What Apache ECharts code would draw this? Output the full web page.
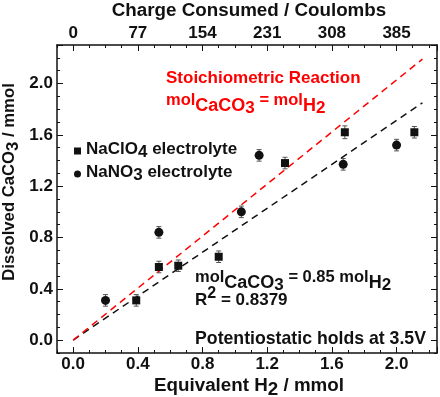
<!DOCTYPE html>
<html>
<head>
<meta charset="UTF-8">
<title>Dissolved CaCO3</title>
<script src="https://cdn.jsdelivr.net/npm/echarts@6/dist/echarts.min.js"></script>
<style>
  html, body { margin: 0; padding: 0; background: #fff; }
  #main { width: 440px; height: 397px; }
</style>
</head>
<body>
<div id="main"></div>
<script>
// NaClO4 electrolyte (squares)
const clo4X = [0.39, 0.53, 0.65, 0.90, 1.31, 1.68, 2.11]
const clo4Y = [0.31, 0.57, 0.58, 0.65, 1.38, 1.62, 1.62]
const clo4Err = [0.045, 0.045, 0.045, 0.045, 0.045, 0.05, 0.045]
// NaNO3 electrolyte (circles)
const no3X = [0.20, 0.53, 1.04, 1.15, 1.67, 2.00]
const no3Y = [0.31, 0.84, 1.00, 1.44, 1.37, 1.52]
const no3Err = [0.045, 0.045, 0.045, 0.045, 0.045, 0.045]
// dashed lines: stoichiometric (mol CaCO3 = mol H2) and fit (0.85)
const lineX = [0, 2.16]
const stoichY = [0, 2.19]
const fitY = [0, 1.85]

const xTicks = [0, 0.4, 0.8, 1.2, 1.6, 2.0]
const topTicks = [0, 77, 154, 231, 308, 385]
const yTicks = [0, 0.4, 0.8, 1.2, 1.6, 2.0]

const FONT = 'Liberation Sans'
const BLACK = '#111'
const RED = '#f00'

function tickIndex(arr, v) {
	return arr.findIndex(t => Math.abs(t - v) < 1e-6)
}

// frame axes carry the small ticks every 0.1
function minorX(pos) {
	return {
		type: 'value', gridIndex: 0, position: pos, min: -0.1, max: 2.25, interval: 0.1,
		axisLine: { onZero: false, lineStyle: { color: BLACK, width: 1.5 } },
		axisTick: { inside: true, length: 3, lineStyle: { color: BLACK, width: 1 } },
		axisLabel: { show: false }, splitLine: { show: false }
	}
}
function minorY(pos) {
	return {
		type: 'value', gridIndex: 0, position: pos, min: -0.1, max: 2.3, interval: 0.1,
		axisLine: { onZero: false, lineStyle: { color: BLACK, width: 1.5 } },
		axisTick: { inside: true, length: 3, lineStyle: { color: BLACK, width: 1 } },
		axisLabel: { show: false }, splitLine: { show: false }
	}
}
const labelStyle = { fontFamily: FONT, fontWeight: 'bold', fontSize: 17, color: BLACK }

// second grid starts at 0 so the long ticks fall on 0, 0.4, 0.8 ...
function majorX(pos, offset, margin, fmt) {
	return {
		type: 'value', gridIndex: 1, position: pos, offset: offset, min: 0, max: 2.25, interval: 0.4,
		axisLine: { show: false, onZero: false },
		axisTick: { inside: true, length: 6, lineStyle: { color: BLACK, width: 1 } },
		axisLabel: Object.assign({ margin: margin, formatter: fmt }, labelStyle),
		splitLine: { show: false }
	}
}
function majorY(pos, offset, showLabel) {
	return {
		type: 'value', gridIndex: 1, position: pos, offset: offset, min: 0, max: 2.3, interval: 0.4,
		axisLine: { show: false, onZero: false },
		axisTick: { inside: true, length: 6, lineStyle: { color: BLACK, width: 1 } },
		axisLabel: Object.assign({ show: showLabel, margin: 4,
			formatter: v => tickIndex(yTicks, v) < 0 ? '' : v.toFixed(1) }, labelStyle),
		splitLine: { show: false }
	}
}

function errorBars(xs, ys, errs) {
	return {
		type: 'custom', xAxisIndex: 0, yAxisIndex: 0, z: 1, silent: true,
		data: xs.map((x, i) => [x, ys[i] - errs[i], ys[i] + errs[i]]),
		renderItem: function(params, api) {
			const lo = api.coord([api.value(0), api.value(1)])
			const hi = api.coord([api.value(0), api.value(2)])
			const w = 2.5
			const st = { stroke: '#555', lineWidth: 1 }
			return { type: 'group', children: [
				{ type: 'line', shape: { x1: lo[0], y1: lo[1], x2: hi[0], y2: hi[1] }, style: st },
				{ type: 'line', shape: { x1: lo[0] - w, y1: lo[1], x2: lo[0] + w, y2: lo[1] }, style: st },
				{ type: 'line', shape: { x1: hi[0] - w, y1: hi[1], x2: hi[0] + w, y2: hi[1] }, style: st }
			] }
		}
	}
}

function pairs(xs, ys) {
	return xs.map((x, i) => [x, ys[i]])
}

// rich text pieces for subscripts
function tok(color, size, pad) {
	return { fontFamily: FONT, fontWeight: 'bold', fontSize: size, fill: color, verticalAlign: 'top',
		padding: [pad, 0, 0, 0] }
}
function richSet(color) {
	return {
		m: tok(color, 16.5, 0),
		s: tok(color, 18, 5),
		ss: tok(color, 17, 8),
		t: tok(color, 18.8, 0),
		d: tok(color, 18.8, 4),
		lt: tok(color, 16.7, 0),
		ld: tok(color, 16.7, 4),
		up: tok(color, 16, 0),
		r: tok(color, 17, 6)
	}
}

const chart = echarts.init(document.getElementById('main'))
chart.setOption({
	animation: false,
	grid: [
		{ left: 57, right: 3, top: 45, bottom: 44 },
		{ left: 73.17, right: 3, top: 45, bottom: 56.83 }
	],
	xAxis: [
		minorX('bottom'), minorX('top'),
		majorX('bottom', 12.83, 3, v => tickIndex(xTicks, v) < 0 ? '' : v.toFixed(1)),
		majorX('top', 0, 3, v => { const i = tickIndex(xTicks, v); return i < 0 ? '' : String(topTicks[i]) })
	],
	yAxis: [
		minorY('left'), minorY('right'),
		majorY('left', 16.17, true), majorY('right', 0, false)
	],
	legend: {
		orient: 'vertical', left: 69, top: 136, itemWidth: 7, itemHeight: 7, itemGap: 3,
		data: [
			{ name: 'NaClO4 electrolyte', icon: 'rect' },
			{ name: 'NaNO3 electrolyte', icon: 'circle' }
		],
		formatter: name => name === 'NaClO4 electrolyte'
			? '{a|NaClO}{b|4}{a| electrolyte}' : '{a|NaNO}{b|3}{a| electrolyte}',
		textStyle: {
			rich: {
				a: { fontFamily: FONT, fontWeight: 'bold', fontSize: 17, color: BLACK, verticalAlign: 'top' },
				b: { fontFamily: FONT, fontWeight: 'bold', fontSize: 17, color: BLACK, verticalAlign: 'top', padding: [3, 0, 0, 0] }
			}
		}
	},
	graphic: [
		{ type: 'text', x: 249, y: 11, style: { text: 'Charge Consumed / Coulombs', font: 'bold 18.8px "Liberation Sans"',
			fill: BLACK, align: 'center', verticalAlign: 'middle' } },
		{ type: 'text', x: 249, y: 388, style: { text: '{t|Equivalent H}{d|2}{t| / mmol}', rich: richSet(BLACK),
			align: 'center', verticalAlign: 'middle' } },
		{ type: 'text', x: 11, y: 182, rotation: Math.PI / 2, style: { text: '{lt|Dissolved CaCO}{ld|3}{lt| / mmol}',
			rich: richSet(BLACK), align: 'center', verticalAlign: 'middle' } },
		{ type: 'text', x: 166, y: 78, style: { text: 'Stoichiometric Reaction', font: 'bold 17px "Liberation Sans"',
			fill: RED, align: 'left', verticalAlign: 'middle' } },
		{ type: 'text', x: 166, y: 92, style: { text: '{m|mol}{s|CaCO}{ss|3}{m| = mol}{s|H}{ss|2}', rich: richSet(RED),
			align: 'left', verticalAlign: 'top' } },
		{ type: 'text', x: 195, y: 269, style: { text: '{m|mol}{s|CaCO}{ss|3}{m| = 0.85 mol}{s|H}{ss|2}', rich: richSet(BLACK),
			align: 'left', verticalAlign: 'top' } },
		{ type: 'text', x: 195, y: 286, style: { text: '{r|R}{up|2}{r| = 0.8379}', rich: richSet(BLACK),
			align: 'left', verticalAlign: 'top' } },
		{ type: 'text', x: 426, y: 339, style: { text: 'Potentiostatic holds at 3.5V', font: 'bold 17.7px "Liberation Sans"',
			fill: BLACK, align: 'right', verticalAlign: 'middle' } }
	],
	series: [
		errorBars(clo4X, clo4Y, clo4Err),
		errorBars(no3X, no3Y, no3Err),
		{ name: 'fit', type: 'line', xAxisIndex: 0, yAxisIndex: 0, data: pairs(lineX, fitY), showSymbol: false,
			silent: true, lineStyle: { color: BLACK, width: 1.5, type: [7, 5] }, z: 2 },
		{ name: 'stoich', type: 'line', xAxisIndex: 0, yAxisIndex: 0, data: pairs(lineX, stoichY), showSymbol: false,
			silent: true, lineStyle: { color: RED, width: 1.5, type: [7, 5] }, z: 3 },
		{ name: 'NaClO4 electrolyte', type: 'scatter', xAxisIndex: 0, yAxisIndex: 0, symbol: 'rect', symbolSize: 8,
			itemStyle: { color: BLACK, opacity: 1 }, data: pairs(clo4X, clo4Y), z: 4 },
		{ name: 'NaNO3 electrolyte', type: 'scatter', xAxisIndex: 0, yAxisIndex: 0, symbol: 'circle', symbolSize: 9,
			itemStyle: { color: BLACK, opacity: 1 }, data: pairs(no3X, no3Y), z: 4 }
	]
})
</script>
</body>
</html>
